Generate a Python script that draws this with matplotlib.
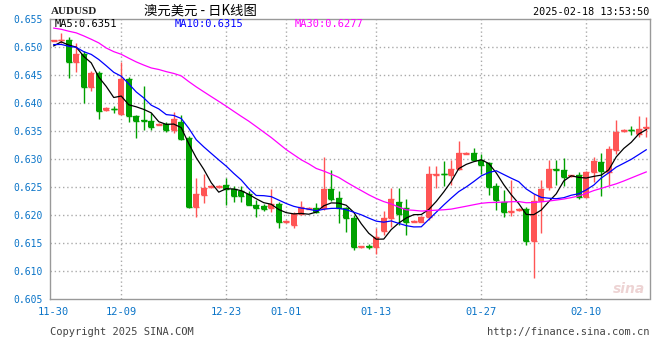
import matplotlib
matplotlib.use("Agg")
import matplotlib.pyplot as plt
import numpy as np
import pandas as pd

# ---------------- data ----------------
opens = [0.6511, 0.6512, 0.6513, 0.6474, 0.6488, 0.6429, 0.6454, 0.6387, 0.6390, 0.6380,
         0.6442, 0.6377, 0.6369, 0.6368, 0.6361, 0.6363, 0.6351, 0.6366, 0.6338, 0.6215,
         0.6236, 0.6250, 0.6250, 0.6254, 0.6246, 0.6242, 0.6237, 0.6218, 0.6216, 0.6212,
         0.6220, 0.6188, 0.6182, 0.6202, 0.6211, 0.6212, 0.6212, 0.6246, 0.6230, 0.6212,
         0.6195, 0.6142, 0.6144, 0.6142, 0.6172, 0.6194, 0.6224, 0.6212, 0.6188, 0.6188,
         0.6196, 0.6272, 0.6274, 0.6271, 0.6282, 0.6309, 0.6311, 0.6299, 0.6292, 0.6252,
         0.6223, 0.6206, 0.6209, 0.6211, 0.6153, 0.6225, 0.6250, 0.6283, 0.6280, 0.6269,
         0.6271, 0.6233, 0.6276, 0.6294, 0.6277, 0.6316, 0.6350, 0.6352, 0.6345, 0.6355]
highs = [0.6513, 0.6525, 0.6517, 0.6507, 0.6492, 0.6457, 0.6458, 0.6392, 0.6394, 0.6474,
         0.6446, 0.6379, 0.6430, 0.6383, 0.6364, 0.6366, 0.6384, 0.6379, 0.6341, 0.6266,
         0.6274, 0.6253, 0.6254, 0.6266, 0.6252, 0.6251, 0.6242, 0.6227, 0.6220, 0.6246,
         0.6224, 0.6191, 0.6206, 0.6225, 0.6214, 0.6222, 0.6304, 0.6280, 0.6243, 0.6215,
         0.6200, 0.6145, 0.6148, 0.6177, 0.6208, 0.6248, 0.6248, 0.6228, 0.6191, 0.6198,
         0.6288, 0.6288, 0.6296, 0.6299, 0.6332, 0.6312, 0.6320, 0.6309, 0.6295, 0.6258,
         0.6245, 0.6262, 0.6212, 0.6214, 0.6238, 0.6262, 0.6298, 0.6298, 0.6301, 0.6272,
         0.6276, 0.6279, 0.6304, 0.6311, 0.6323, 0.6370, 0.6353, 0.6359, 0.6376, 0.6375]
lows = [0.6511, 0.6508, 0.6444, 0.6456, 0.6400, 0.6422, 0.6372, 0.6386, 0.6382, 0.6379,
        0.6366, 0.6337, 0.6351, 0.6351, 0.6360, 0.6349, 0.6346, 0.6334, 0.6213, 0.6197,
        0.6221, 0.6249, 0.6249, 0.6217, 0.6224, 0.6224, 0.6217, 0.6197, 0.6207, 0.6206,
        0.6177, 0.6185, 0.6177, 0.6200, 0.6210, 0.6203, 0.6209, 0.6225, 0.6186, 0.6170,
        0.6138, 0.6141, 0.6140, 0.6130, 0.6164, 0.6179, 0.6182, 0.6164, 0.6187, 0.6187,
        0.6191, 0.6249, 0.6252, 0.6253, 0.6280, 0.6309, 0.6297, 0.6273, 0.6236, 0.6209,
        0.6197, 0.6198, 0.6208, 0.6147, 0.6087, 0.6168, 0.6245, 0.6254, 0.6252, 0.6268,
        0.6228, 0.6232, 0.6259, 0.6234, 0.6253, 0.6309, 0.6349, 0.6343, 0.6340, 0.6340]
closes = [0.6512, 0.6513, 0.6474, 0.6488, 0.6429, 0.6454, 0.6386, 0.6391, 0.6389, 0.6442,
          0.6376, 0.6368, 0.6368, 0.6358, 0.6363, 0.6352, 0.6371, 0.6336, 0.6215, 0.6237,
          0.6249, 0.6251, 0.6252, 0.6246, 0.6234, 0.6234, 0.6218, 0.6213, 0.6211, 0.6220,
          0.6187, 0.6190, 0.6202, 0.6215, 0.6213, 0.6206, 0.6246, 0.6228, 0.6213, 0.6194,
          0.6143, 0.6144, 0.6143, 0.6160, 0.6195, 0.6228, 0.6202, 0.6188, 0.6190, 0.6196,
          0.6273, 0.6274, 0.6273, 0.6283, 0.6311, 0.6311, 0.6298, 0.6290, 0.6250, 0.6227,
          0.6206, 0.6208, 0.6211, 0.6153, 0.6225, 0.6247, 0.6283, 0.6281, 0.6268, 0.6271,
          0.6233, 0.6277, 0.6296, 0.6279, 0.6318, 0.6349, 0.6352, 0.6351, 0.6353, 0.6357]
# closes before the visible window (needed for the moving averages at the left edge)
prev_closes = [0.6577, 0.6577, 0.6577, 0.6592, 0.6634, 0.6579, 0.6666, 0.6584, 0.6584, 0.6584,
               0.6568, 0.6537, 0.6512, 0.6446, 0.6467, 0.6467, 0.6467, 0.6520, 0.6521, 0.6511,
               0.6510, 0.6507, 0.6507, 0.6507, 0.6502, 0.6477, 0.6503, 0.6506, 0.6512]

tick_labels = ["11-30", "12-09", "12-23", "01-01", "01-13", "01-27", "02-10"]
tick_idx = [0, 9, 23, 31, 43, 57, 71]
ytick_vals = [0.605, 0.610, 0.615, 0.620, 0.625, 0.630, 0.635, 0.640, 0.645, 0.650, 0.655]

ma_labels = ["MA5:0.6351", "MA10:0.6315", "MA30:0.6277"]
ma_windows = [5, 10, 30]
ma_colors = ["#000000", "#0000ff", "#ff00ff"]

# ---------------- figure ----------------
RED = "#ff5555"
GREEN = "#00a000"
BLUE_TXT = "#0a74c8"
GRID = "#aaaaaa"

fig = plt.figure(figsize=(6.6, 3.6), dpi=100)
W, H = 660, 360
ax = fig.add_axes([50 / W, (H - 299) / H, 600 / W, 280 / H])

n = len(closes)
x = np.arange(n)
o = np.array(opens); c = np.array(closes); h = np.array(highs); l = np.array(lows)
up = c >= o
cols = np.where(up, RED, GREEN)

# MAs
allc = pd.Series(prev_closes + closes)
for w, col in zip(ma_windows, ma_colors):
    ma = allc.rolling(w).mean().values[len(prev_closes):]
    ax.plot(x, ma, color=col, lw=0.9, zorder=4)

# candles
bw = 0.76
ax.vlines(x, l, h, colors=cols, lw=1.0, zorder=2)
bottoms = np.minimum(o, c)
heights = np.abs(c - o)
ax.bar(x, heights, bottom=bottoms, width=bw, color=cols, edgecolor="none", zorder=3)
ax.hlines(c, x - bw / 2, x + bw / 2, colors=cols, lw=1.0, zorder=3)
ax.hlines(o, x - bw / 2, x + bw / 2, colors=cols, lw=1.0, zorder=3)

ax.set_xlim(-0.5, n - 0.5)
ax.set_ylim(0.605, 0.655)

# grid
for yv in ytick_vals[1:-1]:
    ax.axhline(yv, color=GRID, lw=1.0, ls=(0, (1, 2)), zorder=1)
for ti in tick_idx[1:]:
    ax.axvline(ti, color=GRID, lw=1.0, ls=(0, (1, 2)), zorder=1)

ax.set_yticks(ytick_vals)
ax.set_yticklabels([f"{v:.3f}" for v in ytick_vals], family="DejaVu Sans Mono",
                   fontsize=7, color=BLUE_TXT)
ax.set_xticks(tick_idx)
ax.set_xticklabels(tick_labels, family="DejaVu Sans Mono", fontsize=7.5, color=BLUE_TXT)
ax.tick_params(axis="both", length=0)
ax.tick_params(axis="y", pad=5)
ax.tick_params(axis="x", pad=6)

for s in ["left", "top", "right"]:
    ax.spines[s].set_color("#999999")
    ax.spines[s].set_linewidth(1.0)
ax.spines["bottom"].set_color("#999999")
ax.spines["bottom"].set_linestyle((0, (1, 1)))
ax.spines["bottom"].set_linewidth(1.0)

# MA legend texts inside plot
for lbl, col, xp in zip(ma_labels, ma_colors, [55, 175, 295]):
    fig.text(xp / W, 1 - 24 / H, lbl, color=col, family="DejaVu Sans Mono",
             fontsize=7.5, ha="left", va="center")

# header
fig.text(51 / W, 1 - 12 / H, "AUDUSD", family="Liberation Serif", fontweight="bold",
         fontsize=8, ha="left", va="center", color="#222222")
fig.text(200 / W, 1 - 10.5 / H, "澳元美元 - 日K线图",
         family=["Noto Sans CJK SC", "DejaVu Sans"], fontsize=9.6,
         ha="center", va="center", color="#000000")
fig.text(649 / W, 1 - 12 / H, "2025-02-18 13:53:50", family="DejaVu Sans Mono",
         fontsize=7.3, ha="right", va="center", color="#000000")

# footer
fig.text(50 / W, 1 - 332 / H, "Copyright 2025 SINA.COM", family="DejaVu Sans Mono",
         fontsize=7.5, ha="left", va="center", color="#444444")
fig.text(650 / W, 1 - 332 / H, "http://finance.sina.com.cn", family="DejaVu Sans Mono",
         fontsize=7.5, ha="right", va="center", color="#444444")

# watermark
fig.text(645 / W, 1 - 289 / H, "sina", family="DejaVu Sans", fontstyle="italic",
         fontweight="bold", fontsize=10, ha="right", va="center", color="#e9c9c9",
         alpha=0.8)

fig.savefig("out.png", dpi=100)
